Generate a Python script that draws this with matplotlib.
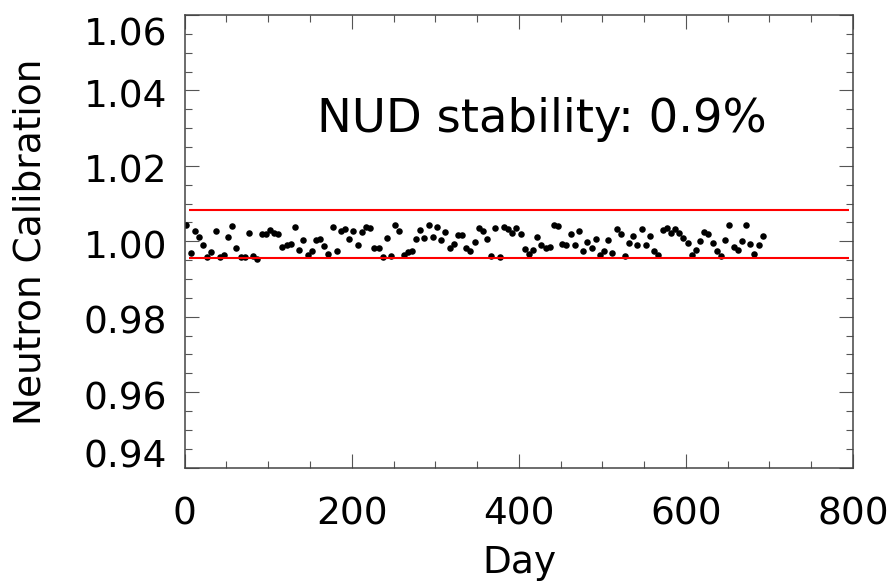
import matplotlib
matplotlib.use("Agg")
import matplotlib.pyplot as plt
from matplotlib.ticker import MultipleLocator
from matplotlib.transforms import ScaledTranslation

# ---------------- data ----------------
days = [2, 7, 12, 17, 22, 27, 32, 37, 42, 47, 52, 57, 62, 67,
        72, 77, 82, 87, 92, 97, 102, 107, 112, 117, 122, 127, 132, 137,
        142, 147, 152, 157, 162, 167, 172, 177, 182, 187, 192, 197, 202, 207,
        212, 217, 222, 227, 232, 237, 242, 247, 252, 257, 262, 267, 272, 277,
        282, 287, 292, 297, 302, 307, 312, 317, 322, 327, 332, 337, 342, 347,
        352, 357, 362, 367, 372, 377, 382, 387, 392, 397, 402, 407, 412, 417,
        422, 427, 432, 437, 442, 447, 452, 457, 462, 467, 472, 477, 482, 487,
        492, 497, 502, 507, 512, 517, 522, 527, 532, 537, 542, 547, 552, 557,
        562, 567, 572, 577, 582, 587, 592, 597, 602, 607, 612, 617, 622, 627,
        632, 637, 642, 647, 652, 657, 662, 667, 672, 677, 682, 687, 692]

calibration = [1.0042, 0.9968, 1.0028, 1.0012, 0.9991, 0.9957, 0.9972, 1.0026, 0.9959, 0.9963, 1.0012, 1.0040, 0.9981, 0.9957,
               0.9957, 1.0021, 0.9961, 0.9954, 1.0020, 1.0020, 1.0030, 1.0023, 1.0018, 0.9986, 0.9991, 0.9992, 1.0037, 0.9976,
               1.0003, 0.9963, 0.9975, 1.0003, 1.0005, 0.9987, 0.9967, 1.0037, 0.9975, 1.0028, 1.0032, 1.0007, 1.0027, 0.9990,
               1.0025, 1.0038, 1.0036, 0.9981, 0.9981, 0.9957, 1.0008, 0.9961, 1.0042, 1.0027, 0.9963, 0.9972, 0.9973, 1.0007,
               1.0030, 1.0009, 1.0042, 1.0012, 1.0038, 1.0004, 1.0024, 0.9981, 0.9992, 1.0016, 1.0016, 0.9981, 0.9973, 0.9999,
               1.0034, 1.0028, 1.0005, 0.9961, 1.0034, 0.9957, 1.0038, 1.0032, 1.0023, 1.0034, 1.0018, 0.9979, 0.9965, 0.9978,
               1.0010, 0.9991, 0.9983, 0.9986, 1.0042, 1.0041, 0.9992, 0.9990, 1.0019, 0.9990, 1.0028, 0.9975, 0.9997, 0.9981,
               1.0005, 0.9963, 0.9975, 1.0003, 0.9969, 1.0032, 1.0018, 0.9961, 0.9996, 1.0013, 0.9989, 1.0032, 0.9991, 1.0014,
               0.9975, 0.9964, 1.0030, 1.0036, 1.0021, 1.0032, 1.0022, 1.0009, 0.9996, 0.9964, 0.9977, 1.0000, 1.0024, 1.0019,
               0.9996, 0.9973, 0.9962, 1.0003, 1.0042, 0.9984, 0.9976, 1.0000, 1.0042, 0.9993, 0.9965, 0.9989, 1.0014]

upper_limit = 1.0082
lower_limit = 0.9956
limit_days = [5, 795]

x_ticks = [0, 200, 400, 600, 800]
x_labels = ["0", "200", "400", "600", "800"]
y_ticks = [0.94, 0.96, 0.98, 1.00, 1.02, 1.04, 1.06]
y_labels = ["0.94", "0.96", "0.98", "1.00", "1.02", "1.04", "1.06"]

annotation = "NUD stability: 0.9%"
x_title = "Day"
y_title = "Neutron Calibration"

# ---------------- figure ----------------
W, H = 891, 583
fig = plt.figure(figsize=(W / 100, H / 100), dpi=100)
ax = fig.add_axes([184.7 / W, (H - 467.5) / H, (853 - 184.7) / W, (467.5 - 15) / H])

ax.plot(days, calibration, linestyle="none", marker="o", ms=4.7,
        mfc="black", mec="black", mew=0)
ax.hlines([upper_limit, lower_limit], limit_days[0], limit_days[1],
          colors="red", linewidth=1.5, zorder=3)

ax.set_xlim(0, 800)
ax.set_ylim(0.94, 1.06)
ax.set_xticks(x_ticks)
ax.set_xticklabels(x_labels)
ax.set_yticks(y_ticks)
ax.set_yticklabels(y_labels)
ax.xaxis.set_minor_locator(MultipleLocator(50))
ax.yaxis.set_minor_locator(MultipleLocator(0.005))

for s in ax.spines.values():
    s.set_color("#444444")
    s.set_linewidth(1.1)

ax.tick_params(which="both", direction="in", top=True, right=True,
               color="#555555", width=0.8, labelsize=27, labelcolor="black")
ax.tick_params(which="major", length=10)
ax.tick_params(which="minor", length=5)
ax.tick_params(axis="x", which="major", pad=21)
ax.tick_params(axis="y", which="major", pad=12.7)

# keep extreme y labels inside the axes range (IDL style)
yt = ax.yaxis.get_major_ticks()
for i, t in enumerate(yt):
    lab = t.label1
    if i == 0:
        lab.set_va("baseline")
        dy = 0
    elif i == len(yt) - 1:
        lab.set_va("top")
        dy = -2
    else:
        dy = -3
    lab.set_transform(lab.get_transform() + ScaledTranslation(0, dy / 100, fig.dpi_scale_trans))

fig.text(31 / W, 1 - 242 / H, y_title, rotation=90, ha="center", va="center", fontsize=27)
fig.text(519 / W, 10 / H, x_title, ha="center", va="baseline", fontsize=27)
fig.text(542 / W, 1 - 132 / H, annotation, ha="center", va="baseline", fontsize=33.5)

fig.savefig("out.png", dpi=100)
